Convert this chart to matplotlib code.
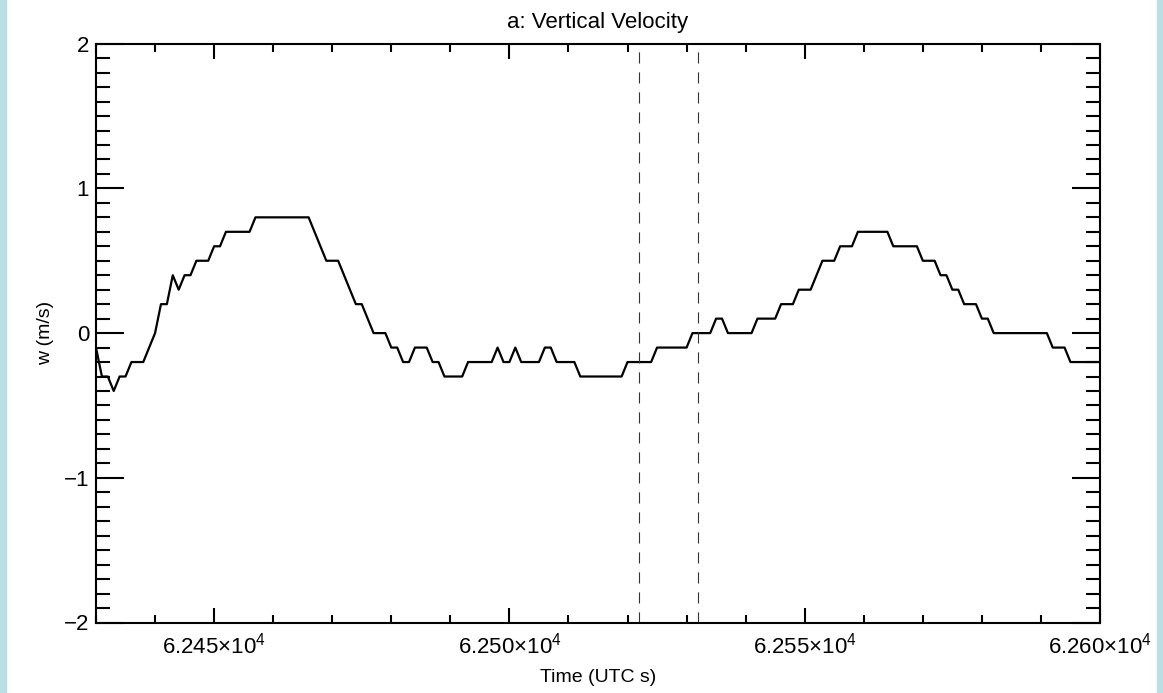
import numpy as np
import matplotlib
matplotlib.use("Agg")
import matplotlib.pyplot as plt
from matplotlib.patches import Rectangle
from matplotlib.ticker import MultipleLocator, FuncFormatter

# 1 Hz vertical velocity samples (m/s), starting at 62430 UTC s
t_start = 62430
w = [
    -0.1, -0.3, -0.3, -0.4, -0.3, -0.3, -0.2, -0.2, -0.2, -0.1,
    0.0, 0.2, 0.2, 0.4, 0.3, 0.4, 0.4, 0.5, 0.5, 0.5,
    0.6, 0.6, 0.7, 0.7, 0.7, 0.7, 0.7, 0.8, 0.8, 0.8,
    0.8, 0.8, 0.8, 0.8, 0.8, 0.8, 0.8, 0.7, 0.6, 0.5,
    0.5, 0.5, 0.4, 0.3, 0.2, 0.2, 0.1, 0.0, 0.0, 0.0,
    -0.1, -0.1, -0.2, -0.2, -0.1, -0.1, -0.1, -0.2, -0.2, -0.3,
    -0.3, -0.3, -0.3, -0.2, -0.2, -0.2, -0.2, -0.2, -0.1, -0.2,
    -0.2, -0.1, -0.2, -0.2, -0.2, -0.2, -0.1, -0.1, -0.2, -0.2,
    -0.2, -0.2, -0.3, -0.3, -0.3, -0.3, -0.3, -0.3, -0.3, -0.3,
    -0.2, -0.2, -0.2, -0.2, -0.2, -0.1, -0.1, -0.1, -0.1, -0.1,
    -0.1, 0.0, 0.0, 0.0, 0.0, 0.1, 0.1, 0.0, 0.0, 0.0,
    0.0, 0.0, 0.1, 0.1, 0.1, 0.1, 0.2, 0.2, 0.2, 0.3,
    0.3, 0.3, 0.4, 0.5, 0.5, 0.5, 0.6, 0.6, 0.6, 0.7,
    0.7, 0.7, 0.7, 0.7, 0.7, 0.6, 0.6, 0.6, 0.6, 0.6,
    0.5, 0.5, 0.5, 0.4, 0.4, 0.3, 0.3, 0.2, 0.2, 0.2,
    0.1, 0.1, 0.0, 0.0, 0.0, 0.0, 0.0, 0.0, 0.0, 0.0,
    0.0, 0.0, -0.1, -0.1, -0.1, -0.2, -0.2, -0.2, -0.2, -0.2, -0.2,
]
t = t_start + np.arange(len(w))

# marked interval
marks = [62522, 62532]

plt.rcParams['font.family'] = ['Liberation Sans', 'DejaVu Sans']
plt.rcParams['mathtext.fontset'] = 'custom'
plt.rcParams['mathtext.rm'] = 'Liberation Sans'

fig = plt.figure(figsize=(11.63, 6.93), dpi=100)
# light blue strips at the side edges
fig.patches.append(Rectangle((0, 0), 6 / 1163, 1, transform=fig.transFigure,
                             color='#b9dfe3', zorder=0))
fig.patches.append(Rectangle((1157 / 1163, 0), 6 / 1163, 1, transform=fig.transFigure,
                             color='#b9dfe3', zorder=0))

ax = fig.add_axes([96 / 1163, 1 - 622.5 / 693, 1004 / 1163, 578.8 / 693])

ax.plot(t, w, color='black', lw=1.6)
for m in marks:
    ax.axvline(m, color='#333333', lw=0.8, dashes=(10, 8))

ax.set_xlim(62430, 62600)
ax.set_ylim(-2, 2)

ax.xaxis.set_major_locator(MultipleLocator(50))
ax.xaxis.set_minor_locator(MultipleLocator(10))
ax.yaxis.set_major_locator(MultipleLocator(1))
ax.yaxis.set_minor_locator(MultipleLocator(0.1))

ax.xaxis.set_major_formatter(FuncFormatter(
    lambda v, p: r'$\mathregular{%.3f{\times}10^{4}}$' % (v / 1e4)))
ax.yaxis.set_major_formatter(FuncFormatter(lambda v, p: '%d' % v if v >= 0 else '\u2212%d' % -v))

ax.tick_params(which='both', direction='in', top=True, right=True, width=1.5,
               labelsize=16)
ax.tick_params(axis='x', which='major', length=11, pad=7)
ax.tick_params(axis='x', which='minor', length=5.5)
ax.tick_params(axis='y', which='major', length=20, pad=5)
ax.tick_params(axis='y', which='minor', length=10)

for s in ax.spines.values():
    s.set_linewidth(1.5)

ax.set_title('a: Vertical Velocity', fontsize=16, pad=11)
ax.set_xlabel('Time (UTC s)', fontsize=14, labelpad=8)
ax.set_ylabel('w (m/s)', fontsize=14, labelpad=7)

fig.savefig('out.png', dpi=100)
